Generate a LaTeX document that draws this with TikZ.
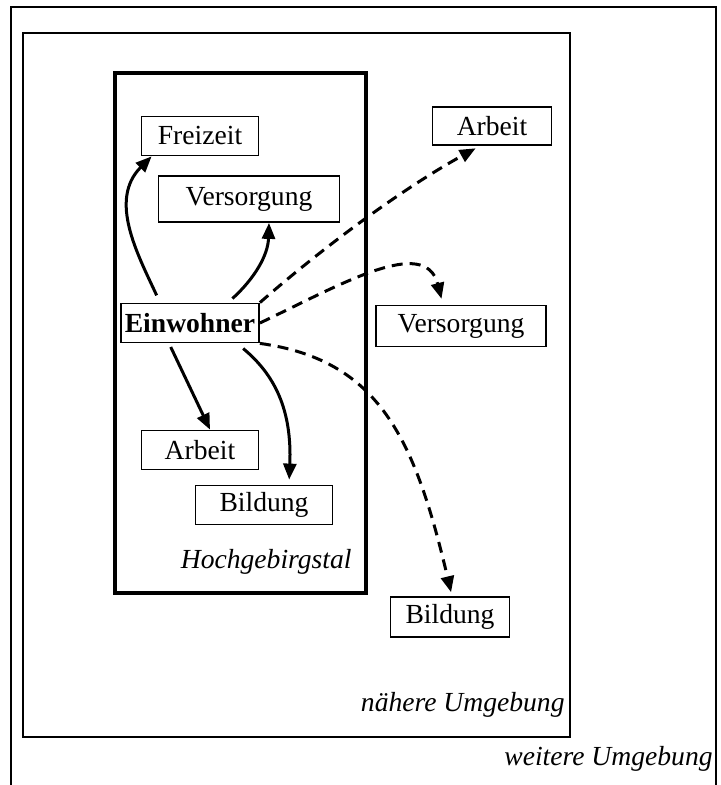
\documentclass[tikz,border=0pt]{standalone}
\usepackage{fontspec}
\setmainfont{Liberation Serif}
\usepackage{tikz}
\usetikzlibrary{
  arrows.meta,
  positioning
}
\tikzset{
  % Activity box: width given, fixed height
  act/.style={
    rectangle, draw, line width=0.9pt,
    minimum width=#1, minimum height=19.5pt, inner sep=0pt,
    font=\fontsize{13.8}{16}\selectfont
  },
  % Region frame
  frame/.style={draw, line width=#1},
  % Region label, right aligned on its baseline
  reg/.style={anchor=base east, inner sep=0pt, font=\fontsize{13.8}{16}\selectfont\itshape},
  % Trip inside the valley
  trip/.style={-{Triangle[length=8pt,width=6.5pt]}, line width=1.5pt},
  % Trip out of the valley
  far/.style={trip, dash pattern=on 5.5pt off 3.5pt}
}

\begin{document}
\begin{tikzpicture}[x=0.5pt, y=-0.5pt]
  \useasboundingbox (0,0) rectangle (720,785);

  % frames
  \draw[frame=1.1pt] (11,790) |- (716,7) -- (716,790);
  \draw[frame=1.1pt] (23,33) rectangle (570,737);
  \draw[frame=2.2pt] (115,73) rectangle (366,593);

  \node[reg] (tal)   at (352,568) {Hochgebirgstal};
  \node[reg] (nahe)  at (565,711) {nähere Umgebung};
  \node[reg] (weit)  at (713,765) {weitere Umgebung};

  % valley
  \node[act=69pt, font=\fontsize{13.8}{16}\selectfont\bfseries] (einw) at (190,323) {Einwohner};
  \node[act=58.5pt]                   (frei)    at (200,136) {Freizeit};
  \node[act=90.5pt, minimum height=23pt] (versIn) at (249,199) {Versorgung};
  \node[act=58.5pt]                   (arbIn)   at (200,450) {Arbeit};
  \node[act=68.5pt]                   (bildIn)  at (264,505) {Bildung};

  % surroundings
  \node[act=59.5pt, minimum height=19pt]   (arbOut)  at (492,126) {Arbeit};
  \node[act=85pt, minimum height=20.5pt]   (versOut) at (461,326) {Versorgung};
  \node[act=59.5pt, minimum height=20pt]   (bildOut) at (450,617) {Bildung};

  \draw[trip, shorten <=4pt] ([xshift=-15pt]einw.north) .. controls (138,255) and (108,200) .. ([xshift=5.5pt]frei.south west);
  \draw[trip, shorten <=3pt] ([xshift=19pt]einw.north) .. controls (255,278) and (268,255) .. ([xshift=10pt]versIn.south);
  \draw[trip, shorten <=2pt] ([xshift=-10.5pt]einw.south) -- ([xshift=5pt]arbIn.north);
  \draw[trip, shorten <=4pt, shorten >=2.5pt] ([xshift=23.5pt]einw.south) .. controls (275,375) and (292,410) .. ([xshift=12.5pt]bildIn.north);

  \draw[far, shorten >=2.5pt] (einw.north east) .. controls (320,250) and (400,190) .. ([xshift=-6pt]arbOut.south);
  \draw[far, shorten >=3pt]   (einw.east) .. controls (340,285) and (425,235) .. ([xshift=-9pt]versOut.north);
  \draw[far, shorten >=2pt]   (einw.south east) .. controls (380,360) and (415,440) .. ([xshift=1pt]bildOut.north);
\end{tikzpicture}
\end{document}
